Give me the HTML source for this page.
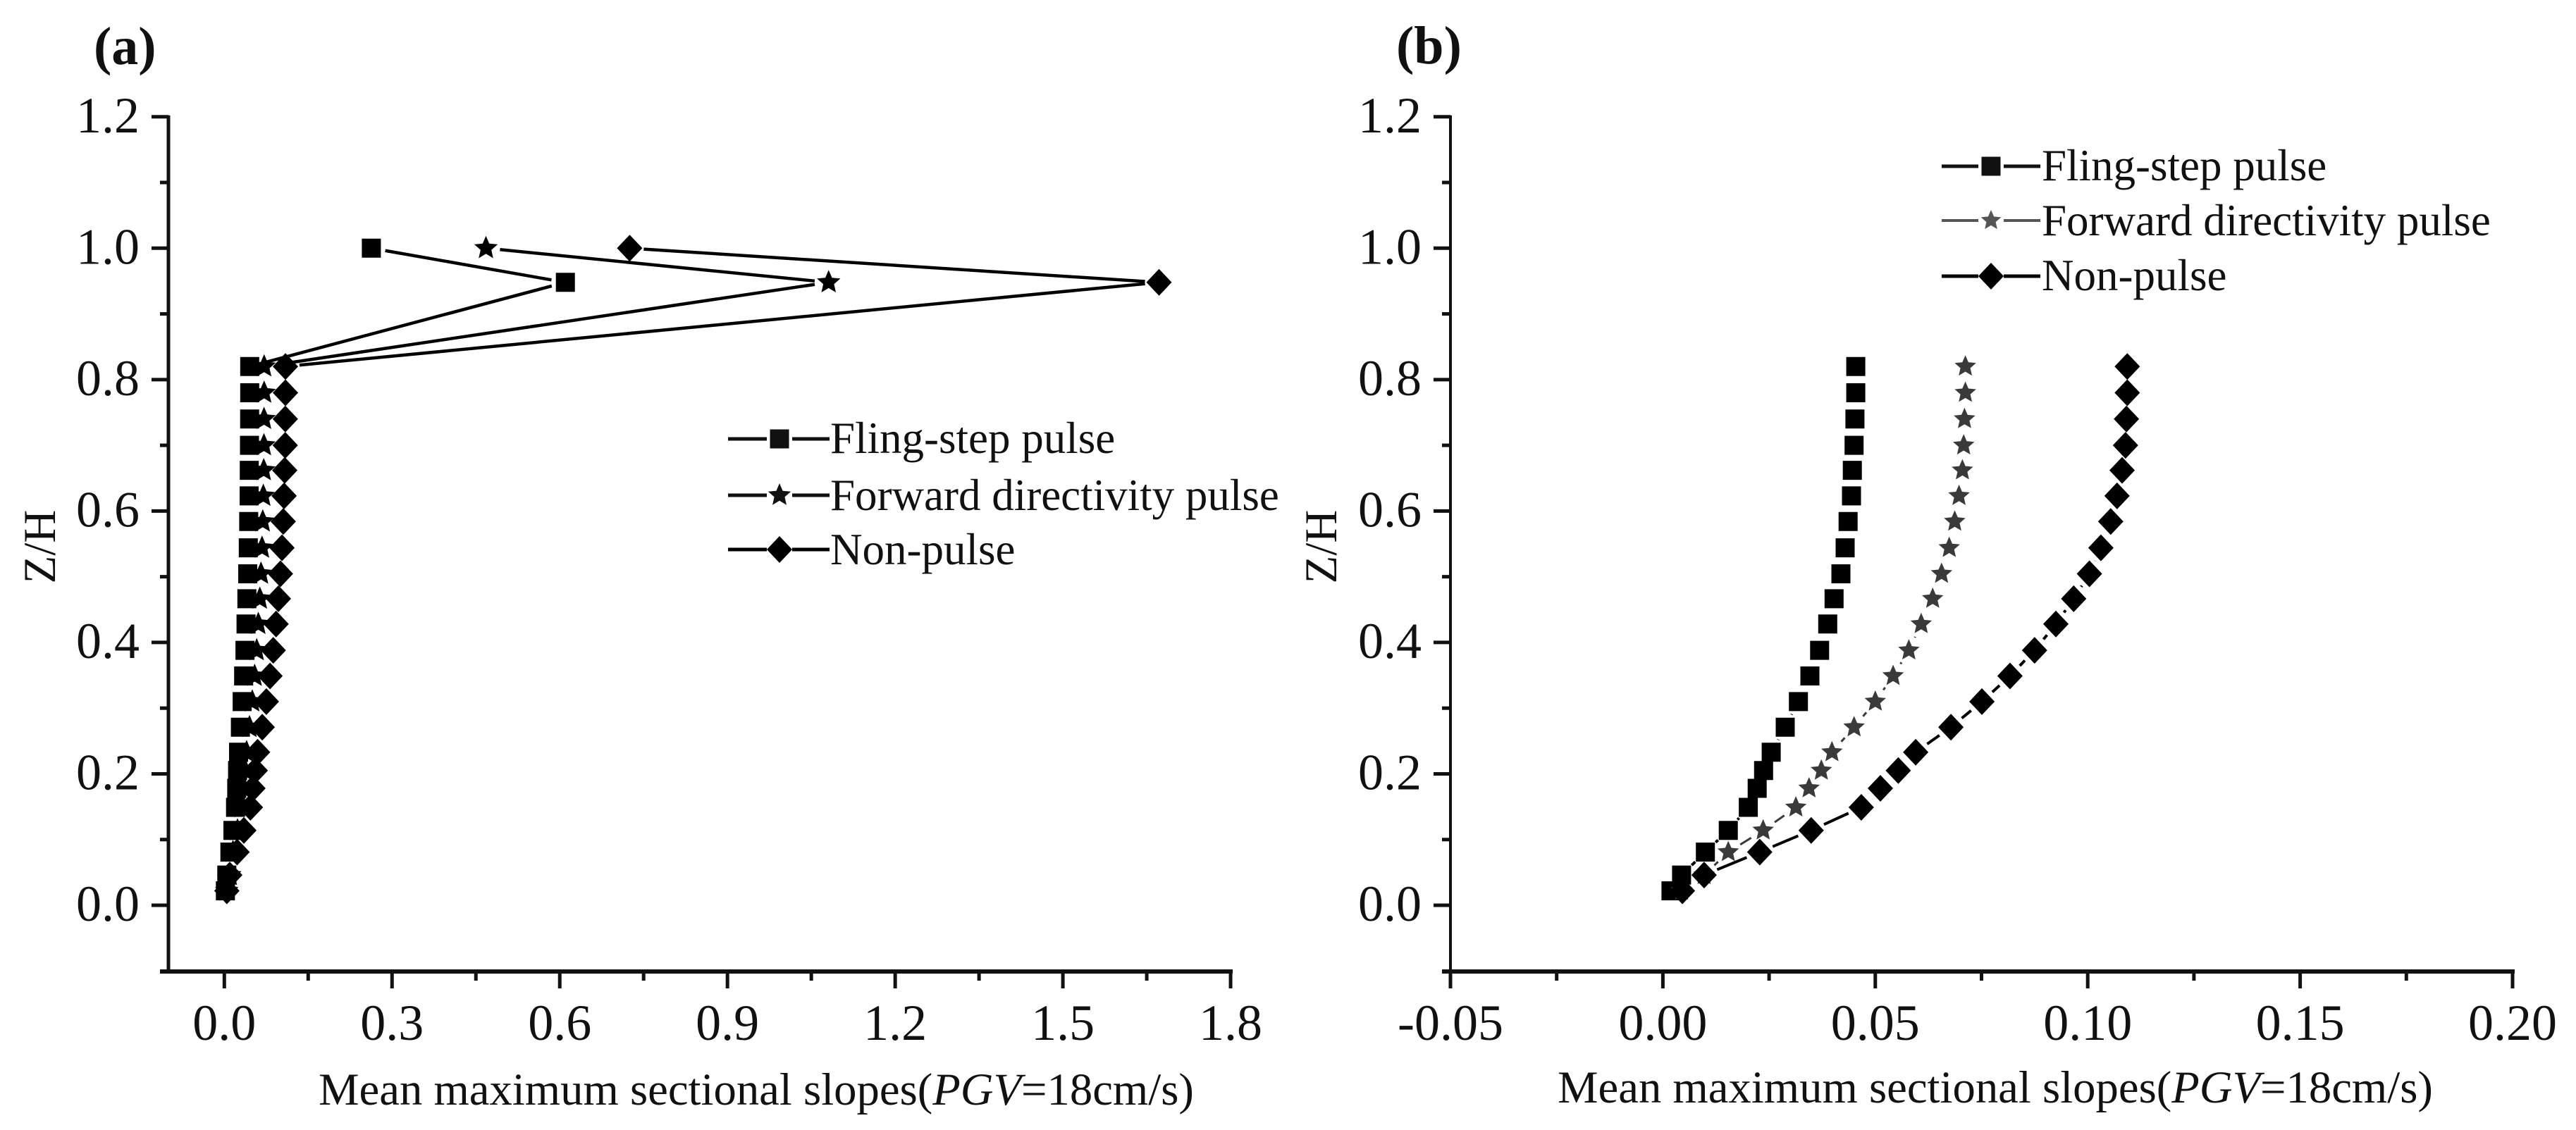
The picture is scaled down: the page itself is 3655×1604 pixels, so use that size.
<!DOCTYPE html>
<html lang="en">
<head>
<meta charset="utf-8">
<title>Mean maximum sectional slopes</title>
<style>
html,body{margin:0;padding:0;background:#fff;}
svg{display:block;}
text{font-family:"Liberation Serif",serif;fill:#111;}
</style>
</head>
<body>
<svg id="figure" xmlns="http://www.w3.org/2000/svg" width="3655" height="1604" viewBox="0 0 3655 1604">
  <rect width="3655" height="1604" fill="#fff"/>
  <text x="133" y="91" font-size="76" font-weight="bold">(a)</text>
  <text x="1981" y="90" font-size="76" font-weight="bold">(b)</text>
  <text transform="translate(78,776) rotate(-90)" text-anchor="middle" font-size="65">Z/H</text>
  <text transform="translate(1896,776) rotate(-90)" text-anchor="middle" font-size="65">Z/H</text>
  <text x="452" y="1568" font-size="64.7">Mean maximum sectional slopes(<tspan font-style="italic">PGV</tspan>=18cm/s)</text>
  <text x="2210" y="1565" font-size="64.7">Mean maximum sectional slopes(<tspan font-style="italic">PGV</tspan>=18cm/s)</text>
</svg>
<script>
// ---- data ----
var yTickLabels = ["0.0", "0.2", "0.4", "0.6", "0.8", "1.0", "1.2"];
var xTickLabelsA = ["0.0", "0.3", "0.6", "0.9", "1.2", "1.5", "1.8"];
var xTickLabelsB = ["-0.05", "0.00", "0.05", "0.10", "0.15", "0.20"];
var seriesNames = ["Fling-step pulse", "Forward directivity pulse", "Non-pulse"];

var heightsA = [1.0, 0.948, 0.82, 0.78, 0.74, 0.70, 0.662, 0.623, 0.584, 0.544, 0.5045, 0.4665, 0.428, 0.388, 0.349, 0.31, 0.271, 0.233, 0.205, 0.178, 0.149, 0.114, 0.081, 0.046, 0.022];
var flingA = [0.263, 0.61, 0.0454, 0.0454, 0.0452, 0.045, 0.0446, 0.0444, 0.0436, 0.0429, 0.0419, 0.0403, 0.0388, 0.0369, 0.0346, 0.0319, 0.0288, 0.0255, 0.0237, 0.0222, 0.0201, 0.0154, 0.01, 0.0044, 0.0019];
var forwardA = [0.468, 1.081, 0.0712, 0.0712, 0.071, 0.0708, 0.0705, 0.0697, 0.0687, 0.0674, 0.0656, 0.0635, 0.0608, 0.0579, 0.0542, 0.05, 0.045, 0.0398, 0.0373, 0.0344, 0.0313, 0.0236, 0.0154, 0.0097, 0.0044];
var nonPulseA = [0.725, 1.672, 0.1093, 0.1093, 0.1091, 0.1089, 0.1081, 0.1069, 0.1054, 0.1031, 0.1004, 0.0967, 0.0925, 0.0875, 0.0817, 0.0751, 0.0678, 0.0595, 0.0554, 0.0512, 0.0467, 0.0349, 0.0228, 0.0097, 0.0046];

var heightsB = [0.82, 0.78, 0.74, 0.70, 0.662, 0.623, 0.584, 0.544, 0.5045, 0.4665, 0.428, 0.388, 0.349, 0.31, 0.271, 0.233, 0.205, 0.178, 0.149, 0.114, 0.081, 0.046, 0.022];
var flingB = [0.0454, 0.0454, 0.0452, 0.045, 0.0446, 0.0444, 0.0436, 0.0429, 0.0419, 0.0403, 0.0388, 0.0369, 0.0346, 0.0319, 0.0288, 0.0255, 0.0237, 0.0222, 0.0201, 0.0154, 0.01, 0.0044, 0.0019];
var forwardB = [0.0712, 0.0712, 0.071, 0.0708, 0.0705, 0.0697, 0.0687, 0.0674, 0.0656, 0.0635, 0.0608, 0.0579, 0.0542, 0.05, 0.045, 0.0398, 0.0373, 0.0344, 0.0313, 0.0236, 0.0154, 0.0097, 0.0044];
var nonPulseB = [0.1093, 0.1093, 0.1091, 0.1089, 0.1081, 0.1069, 0.1054, 0.1031, 0.1004, 0.0967, 0.0925, 0.0875, 0.0817, 0.0751, 0.0678, 0.0595, 0.0554, 0.0512, 0.0467, 0.0349, 0.0228, 0.0097, 0.0046];

// ---- drawing ----
var NS = "http://www.w3.org/2000/svg";
var svg = document.getElementById("figure");
var INK = "#111";
var MARKER_GAP = 20;

function yAxisScale(v) { return 1285 - v * 932.7; }
function xScaleA(v) { return 318.3 + v * 793.2; }
function xScaleB(v) { return 2359.4 + v * 6028; }

function makeLine(parent, x1, y1, x2, y2, color, width) {
  var el = document.createElementNS(NS, "line");
  el.setAttribute("x1", x1);
  el.setAttribute("y1", y1);
  el.setAttribute("x2", x2);
  el.setAttribute("y2", y2);
  el.setAttribute("stroke", color);
  el.setAttribute("stroke-width", width);
  parent.appendChild(el);
  return el;
}

function makeGroup(parent) {
  var g = document.createElementNS(NS, "g");
  parent.appendChild(g);
  return g;
}

function makeLabel(parent, x, y, str, size, anchor) {
  var t = document.createElementNS(NS, "text");
  t.setAttribute("x", x);
  t.setAttribute("y", y);
  t.setAttribute("font-size", size);
  t.setAttribute("text-anchor", anchor);
  t.textContent = str;
  parent.appendChild(t);
  return t;
}

function makeMarker(parent, kind, cx, cy, color, starRadius) {
  var pts = [];
  if (kind === 0) {
    pts = [[-13.5, -13.5], [13.5, -13.5], [13.5, 13.5], [-13.5, 13.5]];
  } else if (kind === 2) {
    pts = [[0, -19], [18, 0], [0, 19], [-18, 0]];
  } else {
    for (var i = 0; i < 10; i++) {
      var r = i % 2 === 0 ? starRadius : starRadius * 0.46;
      var a = -Math.PI / 2 + i * Math.PI / 5;
      pts.push([r * Math.cos(a), r * Math.sin(a)]);
    }
  }
  var el = document.createElementNS(NS, "polygon");
  el.setAttribute("points", pts.map(function (p) {
    return (cx + p[0]).toFixed(1) + "," + (cy + p[1]).toFixed(1);
  }).join(" "));
  el.setAttribute("fill", color);
  parent.appendChild(el);
  return el;
}

function drawAxes(panel, xScale, xLabels, xMin, xMax, leftWidth) {
  var left = xScale(xMin), right = xScale(xMax);
  var g = makeGroup(svg);
  
  

  var ySpine = makeLine(g, left, yAxisScale(1.2) - 2, left, 1379, INK, leftWidth);
  
  
  var xSpine = makeLine(g, left - 12, 1379, right + 3, 1379, INK, 6);
  
  

  yTickLabels.forEach(function (lab, i) {
    var v = parseFloat(lab), py = yAxisScale(v);
    var tick = makeLine(g, left - 24, py, left, py, INK, 5);
    
    
    var txt = makeLabel(g, left - 41, py + 22, lab, 72, "end");
    
    
    if (i < yTickLabels.length - 1) {
      var my = yAxisScale((v + parseFloat(yTickLabels[i + 1])) / 2);
      var minor = makeLine(g, left - 12, my, left, my, INK, 5);
      
      
    }
  });

  xLabels.forEach(function (lab, i) {
    var v = parseFloat(lab), px = xScale(v);
    var tick = makeLine(g, px, 1379, px, 1403, INK, 5);
    
    
    var txt = makeLabel(g, px, 1476, lab, 72, "middle");
    
    
    if (i < xLabels.length - 1) {
      var mx = xScale((v + parseFloat(xLabels[i + 1])) / 2);
      var minor = makeLine(g, mx, 1379, mx, 1392, INK, 5);
      
      
    }
  });
}

function drawSeries(panel, name, kind, xs, ys, xScale, color, lineWidth, starRadius) {
  var g = makeGroup(svg);
  
  
  var i;
  for (i = 0; i < xs.length - 1; i++) {
    var x1 = xScale(xs[i]), y1 = yAxisScale(ys[i]);
    var x2 = xScale(xs[i + 1]), y2 = yAxisScale(ys[i + 1]);
    var d = Math.hypot(x2 - x1, y2 - y1);
    if (d <= MARKER_GAP * 2) continue;
    var ux = (x2 - x1) / d, uy = (y2 - y1) / d;
    var seg = makeLine(g, x1 + ux * MARKER_GAP, y1 + uy * MARKER_GAP, x2 - ux * MARKER_GAP, y2 - uy * MARKER_GAP, color, lineWidth);
    
    
  }
  for (i = 0; i < xs.length; i++) {
    var m = makeMarker(g, kind, xScale(xs[i]), yAxisScale(ys[i]), color, starRadius);
    
    
  }
}

function drawLegend(panel, lineStart, lineEnd, markerX, textX, rowYs, baseYs, colors, lineWidths, starRadius) {
  var g = makeGroup(svg);
  
  
  seriesNames.forEach(function (label, i) {
    var a = makeLine(g, lineStart, rowYs[i], markerX - 18, rowYs[i], colors[i], lineWidths[i]);
    
    
    var b = makeLine(g, markerX + 18, rowYs[i], lineEnd, rowYs[i], colors[i], lineWidths[i]);
    
    
    var m = makeMarker(g, i, markerX, rowYs[i], colors[i], starRadius);
    
    
    var t = makeLabel(g, textX, baseYs[i], label, 63, "start");
    
    
  });
}

drawAxes("panel-a", xScaleA, xTickLabelsA, -0.1, 1.8, 5);
drawAxes("panel-b", xScaleB, xTickLabelsB, -0.05, 0.2, 4);

drawSeries("panel-a", "fling-step", 0, flingA, heightsA, xScaleA, "#000", 4.5, 17.5);
drawSeries("panel-a", "forward-directivity", 1, forwardA, heightsA, xScaleA, "#000", 4.5, 17.5);
drawSeries("panel-a", "non-pulse", 2, nonPulseA, heightsA, xScaleA, "#000", 4.5, 17.5);

drawSeries("panel-b", "fling-step", 0, flingB, heightsB, xScaleB, "#000", 4, 16);
drawSeries("panel-b", "forward-directivity", 1, forwardB, heightsB, xScaleB, "#3a3a3a", 3, 16);
drawSeries("panel-b", "non-pulse", 2, nonPulseB, heightsB, xScaleB, "#000", 4, 16);

drawLegend("panel-a", 1033, 1177, 1106, 1178, [623, 703, 780], [643, 724, 801], ["#111", "#111", "#000"], [5, 5, 5], 17);
drawLegend("panel-b", 2755, 2895, 2825, 2897, [236, 313, 392], [256, 334, 412], ["#111", "#555", "#000"], [5, 4, 5], 15);
</script>
</body>
</html>
